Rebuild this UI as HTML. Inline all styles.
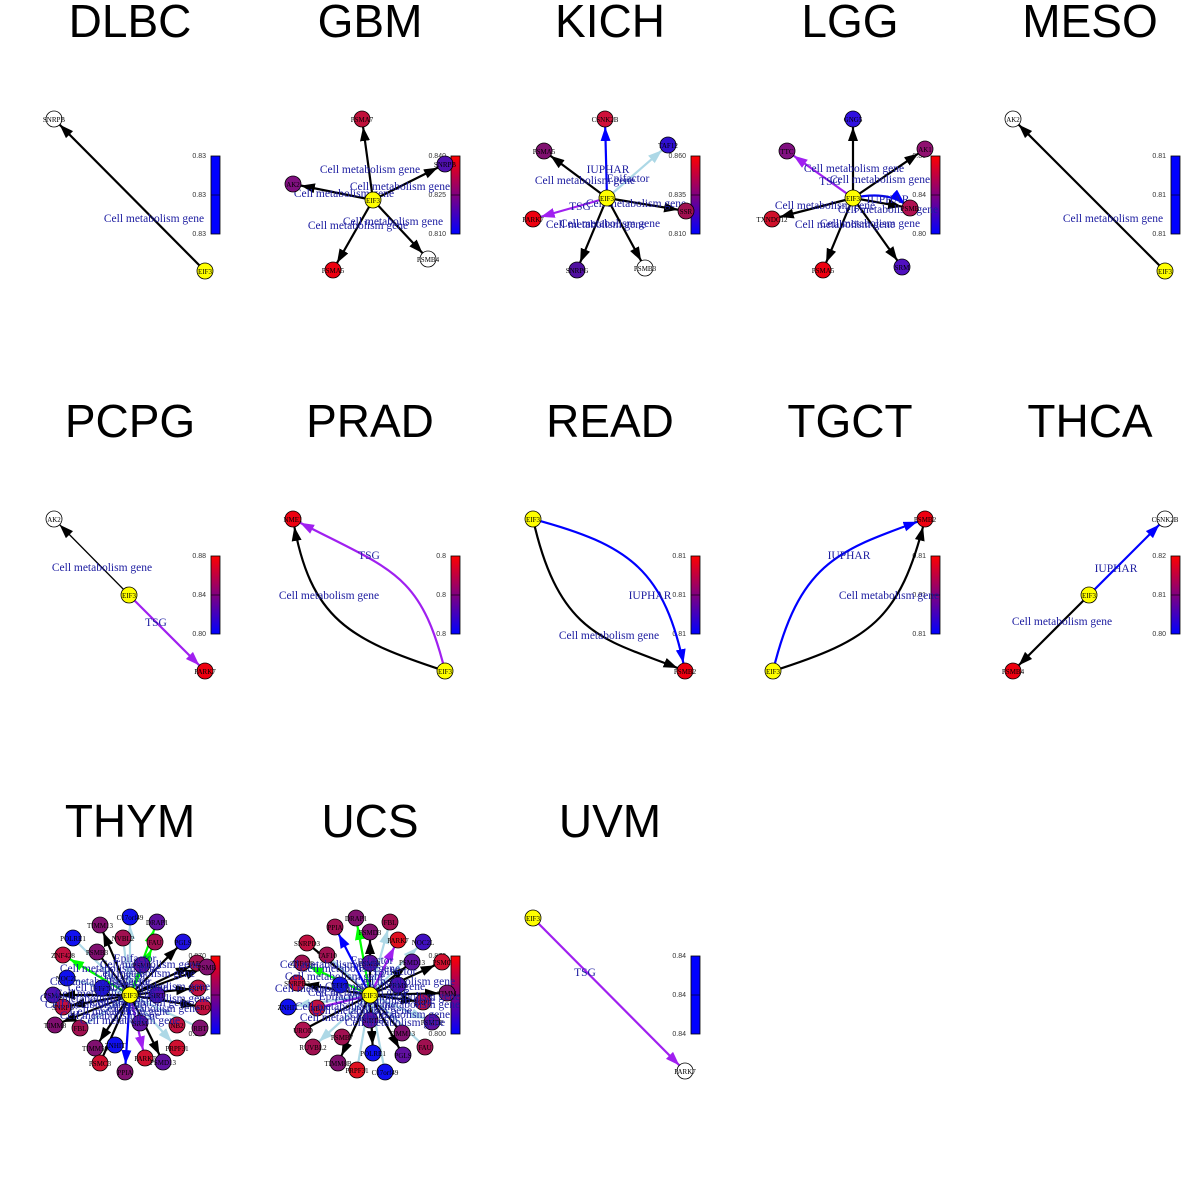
<!DOCTYPE html>
<html><head><meta charset="utf-8"><style>
html,body{margin:0;padding:0;background:#fff}
svg{display:block}
.t{font-family:"Liberation Sans",sans-serif;font-size:46px;text-anchor:middle;fill:#000}
.l{font-family:"Liberation Serif",serif;font-size:11.5px;fill:#1c1ca0;text-anchor:middle}
.n{font-family:"Liberation Serif",serif;font-size:7px;fill:#000;text-anchor:middle}
.k{font-family:"Liberation Sans",sans-serif;font-size:7px;fill:#333;text-anchor:end}
circle{stroke:#000;stroke-width:.8}
.e{fill:none;stroke-width:2.2}
</style></head><body>
<svg width="1200" height="1200" viewBox="0 0 1200 1200" xmlns="http://www.w3.org/2000/svg">
<defs>
<linearGradient id="g" x1="0" y1="0" x2="0" y2="1"><stop offset="0" stop-color="#ff0000"/><stop offset=".5" stop-color="#800080"/><stop offset="1" stop-color="#0000ff"/></linearGradient>
<marker id="mk" markerUnits="userSpaceOnUse" markerWidth="16" markerHeight="12" refX="22" refY="5" orient="auto"><path d="M0,0L14,5L0,10z" fill="#000"/></marker>
<marker id="mb" markerUnits="userSpaceOnUse" markerWidth="16" markerHeight="12" refX="22" refY="5" orient="auto"><path d="M0,0L14,5L0,10z" fill="#0000ff"/></marker>
<marker id="mp" markerUnits="userSpaceOnUse" markerWidth="16" markerHeight="12" refX="22" refY="5" orient="auto"><path d="M0,0L14,5L0,10z" fill="#a020f0"/></marker>
<marker id="ml" markerUnits="userSpaceOnUse" markerWidth="16" markerHeight="12" refX="22" refY="5" orient="auto"><path d="M0,0L14,5L0,10z" fill="#add8e6"/></marker>
<marker id="mg" markerUnits="userSpaceOnUse" markerWidth="16" markerHeight="12" refX="22" refY="5" orient="auto"><path d="M0,0L14,5L0,10z" fill="#00ff00"/></marker>
</defs>

<text class="t" x="130" y="37">DLBC</text><text class="t" x="370" y="37">GBM</text><text class="t" x="610" y="37">KICH</text><text class="t" x="850" y="37">LGG</text><text class="t" x="1090" y="37">MESO</text>
<text class="t" x="130" y="437">PCPG</text><text class="t" x="370" y="437">PRAD</text><text class="t" x="610" y="437">READ</text><text class="t" x="850" y="437">TGCT</text><text class="t" x="1090" y="437">THCA</text>
<text class="t" x="130" y="837">THYM</text><text class="t" x="370" y="837">UCS</text><text class="t" x="610" y="837">UVM</text>

<g>
<rect x="211" y="156" width="9" height="78" fill="#0000ff" stroke="#000" stroke-width=".8"/><line x1="211" y1="195" x2="220" y2="195" stroke="#000" stroke-width=".6"/>
<text class="k" x="206" y="158">0.83</text><text class="k" x="206" y="197">0.83</text><text class="k" x="206" y="236">0.83</text>
<rect x="451" y="156" width="9" height="78" fill="url(#g)" stroke="#000" stroke-width=".8"/><line x1="451" y1="195" x2="460" y2="195" stroke="#000" stroke-width=".6"/>
<text class="k" x="446" y="158">0.840</text><text class="k" x="446" y="197">0.825</text><text class="k" x="446" y="236">0.810</text>
<rect x="691" y="156" width="9" height="78" fill="url(#g)" stroke="#000" stroke-width=".8"/><line x1="691" y1="195" x2="700" y2="195" stroke="#000" stroke-width=".6"/>
<text class="k" x="686" y="158">0.860</text><text class="k" x="686" y="197">0.835</text><text class="k" x="686" y="236">0.810</text>
<rect x="931" y="156" width="9" height="78" fill="url(#g)" stroke="#000" stroke-width=".8"/><line x1="931" y1="195" x2="940" y2="195" stroke="#000" stroke-width=".6"/>
<text class="k" x="926" y="158">0.88</text><text class="k" x="926" y="197">0.84</text><text class="k" x="926" y="236">0.80</text>
<rect x="1171" y="156" width="9" height="78" fill="#0000ff" stroke="#000" stroke-width=".8"/><line x1="1171" y1="195" x2="1180" y2="195" stroke="#000" stroke-width=".6"/>
<text class="k" x="1166" y="158">0.81</text><text class="k" x="1166" y="197">0.81</text><text class="k" x="1166" y="236">0.81</text>

<rect x="211" y="556" width="9" height="78" fill="url(#g)" stroke="#000" stroke-width=".8"/><line x1="211" y1="595" x2="220" y2="595" stroke="#000" stroke-width=".6"/>
<text class="k" x="206" y="558">0.88</text><text class="k" x="206" y="597">0.84</text><text class="k" x="206" y="636">0.80</text>
<rect x="451" y="556" width="9" height="78" fill="url(#g)" stroke="#000" stroke-width=".8"/><line x1="451" y1="595" x2="460" y2="595" stroke="#000" stroke-width=".6"/>
<text class="k" x="446" y="558">0.8</text><text class="k" x="446" y="597">0.8</text><text class="k" x="446" y="636">0.8</text>
<rect x="691" y="556" width="9" height="78" fill="url(#g)" stroke="#000" stroke-width=".8"/><line x1="691" y1="595" x2="700" y2="595" stroke="#000" stroke-width=".6"/>
<text class="k" x="686" y="558">0.81</text><text class="k" x="686" y="597">0.81</text><text class="k" x="686" y="636">0.81</text>
<rect x="931" y="556" width="9" height="78" fill="url(#g)" stroke="#000" stroke-width=".8"/><line x1="931" y1="595" x2="940" y2="595" stroke="#000" stroke-width=".6"/>
<text class="k" x="926" y="558">0.81</text><text class="k" x="926" y="597">0.81</text><text class="k" x="926" y="636">0.81</text>
<rect x="1171" y="556" width="9" height="78" fill="url(#g)" stroke="#000" stroke-width=".8"/><line x1="1171" y1="595" x2="1180" y2="595" stroke="#000" stroke-width=".6"/>
<text class="k" x="1166" y="558">0.82</text><text class="k" x="1166" y="597">0.81</text><text class="k" x="1166" y="636">0.80</text>

<rect x="211" y="956" width="9" height="78" fill="url(#g)" stroke="#000" stroke-width=".8"/><line x1="211" y1="995" x2="220" y2="995" stroke="#000" stroke-width=".6"/>
<text class="k" x="206" y="958">0.870</text><text class="k" x="206" y="1036">0.800</text>
<rect x="451" y="956" width="9" height="78" fill="url(#g)" stroke="#000" stroke-width=".8"/><line x1="451" y1="995" x2="460" y2="995" stroke="#000" stroke-width=".6"/>
<text class="k" x="446" y="958">0.870</text><text class="k" x="446" y="1036">0.800</text>
<rect x="691" y="956" width="9" height="78" fill="#0000ff" stroke="#000" stroke-width=".8"/><line x1="691" y1="995" x2="700" y2="995" stroke="#000" stroke-width=".6"/>
<text class="k" x="686" y="958">0.84</text><text class="k" x="686" y="997">0.84</text><text class="k" x="686" y="1036">0.84</text>
</g>

<!-- DLBC -->
<line class="e" x1="205" y1="271" x2="54" y2="119" stroke="#000" marker-end="url(#mk)"/>
<text class="l" x="154" y="222">Cell metabolism gene</text>
<circle cx="54" cy="119" r="8" fill="#fff"/><text class="n" x="54" y="122">SNRPB</text>
<circle cx="205" cy="271" r="8" fill="#ffff00"/><text class="n" x="205" y="274">EIF3</text>

<!-- GBM -->
<line class="e" stroke="#000" x1="373" y1="200" x2="362" y2="119" marker-end="url(#mk)"/>
<line class="e" stroke="#000" x1="373" y1="200" x2="293" y2="184" marker-end="url(#mk)"/>
<line class="e" stroke="#000" x1="373" y1="200" x2="445" y2="164" marker-end="url(#mk)"/>
<line class="e" stroke="#000" x1="373" y1="200" x2="428" y2="259" marker-end="url(#mk)"/>
<line class="e" stroke="#000" x1="373" y1="200" x2="333" y2="270" marker-end="url(#mk)"/>
<text class="l" x="370" y="173">Cell metabolism gene</text><text class="l" x="400" y="190">Cell metabolism gene</text><text class="l" x="344" y="197">Cell metabolism gene</text><text class="l" x="393" y="225">Cell metabolism gene</text><text class="l" x="358" y="229">Cell metabolism gene</text>
<circle cx="362" cy="119" r="8" fill="#c0103a"/><text class="n" x="362" y="122">PSMA7</text>
<circle cx="293" cy="184" r="8" fill="#801080"/><text class="n" x="293" y="187">AK2</text>
<circle cx="445" cy="164" r="8" fill="#5010b0"/><text class="n" x="445" y="167">SNRPB</text>
<circle cx="428" cy="259" r="8" fill="#fff"/><text class="n" x="428" y="262">PSMB4</text>
<circle cx="333" cy="270" r="8" fill="#ee0010"/><text class="n" x="333" y="273">PSMA5</text>
<circle cx="373" cy="200" r="8" fill="#ffff00"/><text class="n" x="373" y="203">EIF3</text>

<!-- KICH -->
<line class="e" stroke="#0000ff" x1="607" y1="198" x2="605" y2="119" marker-end="url(#mb)"/>
<line class="e" stroke="#000" x1="607" y1="198" x2="544" y2="151" marker-end="url(#mk)"/>
<line class="e" stroke="#add8e6" x1="607" y1="198" x2="668" y2="145" marker-end="url(#ml)"/>
<line class="e" stroke="#a020f0" x1="607" y1="198" x2="533" y2="219" marker-end="url(#mp)"/>
<line class="e" stroke="#000" x1="607" y1="198" x2="686" y2="211" marker-end="url(#mk)"/>
<line class="e" stroke="#000" x1="607" y1="198" x2="577" y2="270" marker-end="url(#mk)"/>
<line class="e" stroke="#000" x1="607" y1="198" x2="645" y2="268" marker-end="url(#mk)"/>
<text class="l" x="608" y="173">IUPHAR</text><text class="l" x="585" y="184">Cell metabolism gene</text><text class="l" x="628" y="182">Epifactor</text><text class="l" x="580" y="210">TSG</text><text class="l" x="636" y="207">Cell metabolism gene</text><text class="l" x="596" y="228">Cell metabolism gene</text><text class="l" x="610" y="227">Cell metabolism gene</text>
<circle cx="605" cy="119" r="8" fill="#d0103a"/><text class="n" x="605" y="122">CSNK2B</text>
<circle cx="544" cy="151" r="8" fill="#801070"/><text class="n" x="544" y="154">PSMA5</text>
<circle cx="668" cy="145" r="8" fill="#3010d0"/><text class="n" x="668" y="148">TAF12</text>
<circle cx="533" cy="219" r="8" fill="#ee0010"/><text class="n" x="533" y="222">PARK7</text>
<circle cx="686" cy="211" r="8" fill="#a01050"/><text class="n" x="686" y="214">SSR</text>
<circle cx="577" cy="270" r="8" fill="#5010a0"/><text class="n" x="577" y="273">SNRPG</text>
<circle cx="645" cy="268" r="8" fill="#fff"/><text class="n" x="645" y="271">PSMB3</text>
<circle cx="607" cy="198" r="8" fill="#ffff00"/><text class="n" x="607" y="201">EIF3</text>

<!-- LGG -->
<line class="e" stroke="#000" x1="853" y1="198" x2="853" y2="119" marker-end="url(#mk)"/>
<line class="e" stroke="#a020f0" x1="853" y1="198" x2="787" y2="151" marker-end="url(#mp)"/>
<line class="e" stroke="#000" x1="853" y1="198" x2="925" y2="149" marker-end="url(#mk)"/>
<line class="e" stroke="#000" x1="853" y1="198" x2="772" y2="219" marker-end="url(#mk)"/>
<path class="e" stroke="#0000ff" d="M853,198 Q890,190 910,208" marker-end="url(#mb)"/>
<line class="e" stroke="#000" x1="853" y1="198" x2="910" y2="208" marker-end="url(#mk)"/>
<line class="e" stroke="#000" x1="853" y1="198" x2="823" y2="270" marker-end="url(#mk)"/>
<line class="e" stroke="#000" x1="853" y1="198" x2="902" y2="267" marker-end="url(#mk)"/>
<text class="l" x="854" y="172">Cell metabolism gene</text><text class="l" x="880" y="183">Cell metabolism gene</text><text class="l" x="830" y="185">TSG</text><text class="l" x="888" y="203">IUPHAR</text><text class="l" x="825" y="209">Cell metabolism gene</text><text class="l" x="888" y="213">Cell metabolism gene</text><text class="l" x="845" y="228">Cell metabolism gene</text><text class="l" x="870" y="227">Cell metabolism gene</text>
<circle cx="853" cy="119" r="8" fill="#3010e0"/><text class="n" x="853" y="122">GNG5</text>
<circle cx="787" cy="151" r="8" fill="#801080"/><text class="n" x="787" y="154">TTC</text>
<circle cx="925" cy="149" r="8" fill="#901070"/><text class="n" x="925" y="152">AK1</text>
<circle cx="772" cy="219" r="8" fill="#d0102a"/><text class="n" x="772" y="222">TXNDC12</text>
<circle cx="910" cy="208" r="8" fill="#b01050"/><text class="n" x="910" y="211">PSMB</text>
<circle cx="823" cy="270" r="8" fill="#ee0010"/><text class="n" x="823" y="273">PSMA5</text>
<circle cx="902" cy="267" r="8" fill="#5010c0"/><text class="n" x="902" y="270">SRM</text>
<circle cx="853" cy="198" r="8" fill="#ffff00"/><text class="n" x="853" y="201">EIF3</text>

<!-- MESO -->
<line class="e" x1="1165" y1="271" x2="1013" y2="119" stroke="#000" marker-end="url(#mk)"/>
<text class="l" x="1113" y="222">Cell metabolism gene</text>
<circle cx="1013" cy="119" r="8" fill="#fff"/><text class="n" x="1013" y="122">AK2</text>
<circle cx="1165" cy="271" r="8" fill="#ffff00"/><text class="n" x="1165" y="274">EIF3</text>

<!-- PCPG -->
<line x1="129" y1="595" x2="54" y2="519" stroke="#000" stroke-width="1.3" marker-end="url(#mk)"/>
<line class="e" stroke="#a020f0" x1="129" y1="595" x2="205" y2="671" marker-end="url(#mp)"/>
<text class="l" x="102" y="571">Cell metabolism gene</text><text class="l" x="156" y="626">TSG</text>
<circle cx="54" cy="519" r="8" fill="#fff"/><text class="n" x="54" y="522">AK2</text>
<circle cx="205" cy="671" r="8" fill="#ee0010"/><text class="n" x="205" y="674">PARK7</text>
<circle cx="129" cy="595" r="8" fill="#ffff00"/><text class="n" x="129" y="598">EIF3</text>

<!-- PRAD -->
<path class="e" stroke="#000" d="M445,671 C350,640 310,620 293,519" marker-end="url(#mk)"/>
<path class="e" stroke="#a020f0" d="M445,671 C420,570 390,570 293,519" marker-end="url(#mp)"/>
<text class="l" x="369" y="559">TSG</text><text class="l" x="329" y="599">Cell metabolism gene</text>
<circle cx="293" cy="519" r="8" fill="#ee0010"/><text class="n" x="293" y="522">NME1</text>
<circle cx="445" cy="671" r="8" fill="#ffff00"/><text class="n" x="445" y="674">EIF3</text>

<!-- READ -->
<path class="e" stroke="#0000ff" d="M533,519 C630,545 665,570 685,671" marker-end="url(#mb)"/>
<path class="e" stroke="#000" d="M533,519 C560,640 610,640 685,671" marker-end="url(#mk)"/>
<text class="l" x="650" y="599">IUPHAR</text><text class="l" x="609" y="639">Cell metabolism gene</text>
<circle cx="533" cy="519" r="8" fill="#ffff00"/><text class="n" x="533" y="522">EIF3</text>
<circle cx="685" cy="671" r="8" fill="#ee0010"/><text class="n" x="685" y="674">PSMB2</text>

<!-- TGCT -->
<path class="e" stroke="#0000ff" d="M773,671 C800,560 840,550 925,519" marker-end="url(#mb)"/>
<path class="e" stroke="#000" d="M773,671 C870,640 900,620 925,519" marker-end="url(#mk)"/>
<text class="l" x="849" y="559">IUPHAR</text><text class="l" x="889" y="599">Cell metabolism gene</text>
<circle cx="925" cy="519" r="8" fill="#ee0010"/><text class="n" x="925" y="522">PSMB2</text>
<circle cx="773" cy="671" r="8" fill="#ffff00"/><text class="n" x="773" y="674">EIF3</text>

<!-- THCA -->
<line class="e" stroke="#0000ff" x1="1089" y1="595" x2="1165" y2="519" marker-end="url(#mb)"/>
<line class="e" stroke="#000" x1="1089" y1="595" x2="1013" y2="671" marker-end="url(#mk)"/>
<text class="l" x="1116" y="572">IUPHAR</text><text class="l" x="1062" y="625">Cell metabolism gene</text>
<circle cx="1165" cy="519" r="8" fill="#fff"/><text class="n" x="1165" y="522">CSNK2B</text>
<circle cx="1013" cy="671" r="8" fill="#ee0010"/><text class="n" x="1013" y="674">PSMB4</text>
<circle cx="1089" cy="595" r="8" fill="#ffff00"/><text class="n" x="1089" y="598">EIF3</text>

<!-- UVM -->
<line class="e" stroke="#a020f0" x1="533" y1="918" x2="685" y2="1071" marker-end="url(#mp)"/>
<text class="l" x="585" y="976">TSG</text>
<circle cx="533" cy="918" r="8" fill="#ffff00"/><text class="n" x="533" y="921">EIF3</text>
<circle cx="685" cy="1071" r="8" fill="#fff"/><text class="n" x="685" y="1074">PARK7</text>

<!-- THYM -->
<g>
<line class="e" stroke="#add8e6" x1="130" y1="995" x2="130" y2="917" marker-end="url(#ml)"/>
<line class="e" stroke="#00ff00" x1="130" y1="995" x2="157" y2="922" marker-end="url(#mg)"/>
<line class="e" stroke="#000" x1="130" y1="995" x2="100" y2="925" marker-end="url(#mk)"/>
<line class="e" stroke="#add8e6" x1="130" y1="995" x2="73" y2="938"/>
<line class="e" stroke="#add8e6" x1="130" y1="995" x2="123" y2="938"/>
<line class="e" stroke="#00ff00" x1="130" y1="995" x2="155" y2="942" marker-end="url(#mg)"/>
<line class="e" stroke="#000" x1="130" y1="995" x2="183" y2="942" marker-end="url(#mk)"/>
<line class="e" stroke="#000" x1="130" y1="995" x2="97" y2="952"/>
<line class="e" stroke="#00ff00" x1="130" y1="995" x2="63" y2="955" marker-end="url(#mg)"/>
<line class="e" stroke="#000" x1="130" y1="995" x2="197" y2="963" marker-end="url(#mk)"/>
<line class="e" stroke="#000" x1="130" y1="995" x2="207" y2="967" marker-end="url(#mk)"/>
<line class="e" stroke="#add8e6" x1="130" y1="995" x2="67" y2="978"/>
<line class="e" stroke="#000" x1="130" y1="995" x2="53" y2="995" marker-end="url(#mk)"/>
<line class="e" stroke="#000" x1="130" y1="995" x2="198" y2="988" marker-end="url(#mk)"/>
<line class="e" stroke="#000" x1="130" y1="995" x2="63" y2="1007" marker-end="url(#mk)"/>
<line class="e" stroke="#000" x1="130" y1="995" x2="203" y2="1007" marker-end="url(#mk)"/>
<line class="e" stroke="#000" x1="130" y1="995" x2="55" y2="1025" marker-end="url(#mk)"/>
<line class="e" stroke="#add8e6" x1="130" y1="995" x2="80" y2="1028"/>
<line class="e" stroke="#add8e6" x1="130" y1="995" x2="200" y2="1028"/>
<line class="e" stroke="#000" x1="130" y1="995" x2="95" y2="1048" marker-end="url(#mk)"/>
<line class="e" stroke="#add8e6" x1="130" y1="995" x2="177" y2="1048" marker-end="url(#ml)"/>
<line class="e" stroke="#a020f0" x1="130" y1="995" x2="145" y2="1058" marker-end="url(#mp)"/>
<line class="e" stroke="#000" x1="130" y1="995" x2="163" y2="1062" marker-end="url(#mk)"/>
<line class="e" stroke="#000" x1="130" y1="995" x2="100" y2="1063"/>
<line class="e" stroke="#0000ff" x1="130" y1="995" x2="125" y2="1072" marker-end="url(#mb)"/>
</g>
<g>
<circle cx="130" cy="917" r="8" fill="#1010f0"/><text class="n" x="130" y="920">C17orf49</text>
<circle cx="157" cy="922" r="8" fill="#6010a0"/><text class="n" x="157" y="925">DRAP1</text>
<circle cx="100" cy="925" r="8" fill="#801070"/><text class="n" x="100" y="928">TIMM13</text>
<circle cx="73" cy="938" r="8" fill="#1010f0"/><text class="n" x="73" y="941">POLRE1</text>
<circle cx="123" cy="938" r="8" fill="#a01050"/><text class="n" x="123" y="941">NVBL2</text>
<circle cx="155" cy="942" r="8" fill="#a01050"/><text class="n" x="155" y="945">FAU</text>
<circle cx="183" cy="942" r="8" fill="#2010e0"/><text class="n" x="183" y="945">PGLS</text>
<circle cx="97" cy="952" r="8" fill="#801070"/><text class="n" x="97" y="955">PSMB3</text>
<circle cx="63" cy="955" r="8" fill="#c01040"/><text class="n" x="63" y="958">ZNF428</text>
<circle cx="197" cy="963" r="8" fill="#a01050"/><text class="n" x="197" y="966">TAF10</text>
<circle cx="207" cy="967" r="8" fill="#801070"/><text class="n" x="207" y="970">PSMB</text>
<circle cx="142" cy="965" r="8" fill="#6010a0"/><text class="n" x="142" y="968">PSMD</text>
<circle cx="67" cy="978" r="8" fill="#1010f0"/><text class="n" x="67" y="981">NOC2L</text>
<circle cx="102" cy="988" r="8" fill="#2010e0"/><text class="n" x="102" y="991">EFPT</text>
<circle cx="198" cy="988" r="8" fill="#c01040"/><text class="n" x="198" y="991">PRPF3</text>
<circle cx="157" cy="995" r="8" fill="#5010b0"/><text class="n" x="157" y="998">SIRT</text>
<circle cx="53" cy="995" r="8" fill="#5010b0"/><text class="n" x="53" y="998">PSMA</text>
<circle cx="63" cy="1007" r="8" fill="#c01040"/><text class="n" x="63" y="1010">SNRPB</text>
<circle cx="203" cy="1007" r="8" fill="#c01040"/><text class="n" x="203" y="1010">SRO</text>
<circle cx="55" cy="1025" r="8" fill="#801070"/><text class="n" x="55" y="1028">TIMM8</text>
<circle cx="80" cy="1028" r="8" fill="#a01050"/><text class="n" x="80" y="1031">FBL</text>
<circle cx="140" cy="1023" r="8" fill="#6010a0"/><text class="n" x="140" y="1026">SRM</text>
<circle cx="177" cy="1025" r="8" fill="#c01040"/><text class="n" x="177" y="1028">NB2</text>
<circle cx="200" cy="1028" r="8" fill="#801070"/><text class="n" x="200" y="1031">RBT</text>
<circle cx="115" cy="1045" r="8" fill="#1010f0"/><text class="n" x="115" y="1048">ZNHIT</text>
<circle cx="95" cy="1048" r="8" fill="#801070"/><text class="n" x="95" y="1051">TIMM50</text>
<circle cx="177" cy="1048" r="8" fill="#d01030"/><text class="n" x="177" y="1051">PRPF31</text>
<circle cx="145" cy="1058" r="8" fill="#d01030"/><text class="n" x="145" y="1061">PARK7</text>
<circle cx="163" cy="1062" r="8" fill="#6010a0"/><text class="n" x="163" y="1065">PSMD13</text>
<circle cx="100" cy="1063" r="8" fill="#d01030"/><text class="n" x="100" y="1066">PSMC3</text>
<circle cx="125" cy="1072" r="8" fill="#801070"/><text class="n" x="125" y="1075">PPIA</text>
</g>
<g>
<text class="l" x="110" y="972">Cell metabolism gene</text><text class="l" x="150" y="968">Cell metabolism gene</text><text class="l" x="125" y="979">Epifactor</text><text class="l" x="100" y="985">Cell metabolism gene</text><text class="l" x="160" y="990">Cell metabolism gene</text><text class="l" x="105" y="997">Cell metabolism gene</text><text class="l" x="160" y="1002">Cell metabolism gene</text><text class="l" x="95" y="1008">Cell metabolism gene</text><text class="l" x="150" y="1012">Cell metabolism gene</text><text class="l" x="110" y="1019">Cell metabolism gene</text><text class="l" x="130" y="1024">Cell metabolism gene</text><text class="l" x="130" y="985">Epifactor</text>
<text class="l" x="135" y="962">Epifactor</text><text class="l" x="118" y="991">Cell metabolism gene</text><text class="l" x="140" y="1006">Cell metabolism gene</text><text class="l" x="120" y="1015">Cell metabolism gene</text><text class="l" x="145" y="977">Cell metabolism gene</text><text class="l" x="90" y="1002">Cell metabolism gene</text>
</g>
<circle cx="130" cy="995" r="8" fill="#ffff00"/><text class="n" x="130" y="998">EIF3</text>

<!-- UCS -->
<g>
<line class="e" stroke="#add8e6" x1="370" y1="995" x2="390" y2="922" marker-end="url(#ml)"/>
<line class="e" stroke="#00ff00" x1="370" y1="995" x2="356" y2="918" marker-end="url(#mg)"/>
<line class="e" stroke="#0000ff" x1="370" y1="995" x2="335" y2="927" marker-end="url(#mb)"/>
<line class="e" stroke="#000" x1="370" y1="995" x2="370" y2="932" marker-end="url(#mk)"/>
<line class="e" stroke="#000" x1="370" y1="995" x2="307" y2="943"/>
<line class="e" stroke="#a020f0" x1="370" y1="995" x2="398" y2="940" marker-end="url(#mp)"/>
<line class="e" stroke="#add8e6" x1="370" y1="995" x2="423" y2="942" marker-end="url(#ml)"/>
<line class="e" stroke="#add8e6" x1="370" y1="995" x2="327" y2="955"/>
<line class="e" stroke="#000" x1="370" y1="995" x2="412" y2="962" marker-end="url(#mk)"/>
<line class="e" stroke="#000" x1="370" y1="995" x2="442" y2="962" marker-end="url(#mk)"/>
<line class="e" stroke="#00ff00" x1="370" y1="995" x2="302" y2="963" marker-end="url(#mg)"/>
<line class="e" stroke="#000" x1="370" y1="995" x2="297" y2="983" marker-end="url(#mk)"/>
<line class="e" stroke="#000" x1="370" y1="995" x2="447" y2="993" marker-end="url(#mk)"/>
<line class="e" stroke="#add8e6" x1="370" y1="995" x2="288" y2="1007" marker-end="url(#ml)"/>
<line class="e" stroke="#a020f0" x1="370" y1="995" x2="317" y2="1008"/>
<line class="e" stroke="#000" x1="370" y1="995" x2="423" y2="1002" marker-end="url(#mk)"/>
<line class="e" stroke="#add8e6" x1="370" y1="995" x2="432" y2="1022" marker-end="url(#ml)"/>
<line class="e" stroke="#000" x1="370" y1="995" x2="303" y2="1030"/>
<line class="e" stroke="#000" x1="370" y1="995" x2="370" y2="1020" />
<line class="e" stroke="#add8e6" x1="370" y1="995" x2="313" y2="1047" marker-end="url(#ml)"/>
<line class="e" stroke="#000" x1="370" y1="995" x2="402" y2="1033" />
<line class="e" stroke="#000" x1="370" y1="995" x2="403" y2="1055" marker-end="url(#mk)"/>
<line class="e" stroke="#000" x1="370" y1="995" x2="338" y2="1063" marker-end="url(#mk)"/>
<line class="e" stroke="#000" x1="370" y1="995" x2="373" y2="1053" marker-end="url(#mk)"/>
<line class="e" stroke="#add8e6" x1="370" y1="995" x2="357" y2="1070"/>
<line class="e" stroke="#add8e6" x1="370" y1="995" x2="385" y2="1072"/>
<line class="e" stroke="#add8e6" x1="370" y1="995" x2="425" y2="1047"/>
</g>
<g>
<circle cx="390" cy="922" r="8" fill="#a01050"/><text class="n" x="390" y="925">FBL</text>
<circle cx="356" cy="918" r="8" fill="#801070"/><text class="n" x="356" y="921">DRAP1</text>
<circle cx="335" cy="927" r="8" fill="#a01050"/><text class="n" x="335" y="930">PPIA</text>
<circle cx="370" cy="932" r="8" fill="#801070"/><text class="n" x="370" y="935">PSMD3</text>
<circle cx="307" cy="943" r="8" fill="#c01040"/><text class="n" x="307" y="946">SNRPD3</text>
<circle cx="398" cy="940" r="8" fill="#e01020"/><text class="n" x="398" y="943">PARK7</text>
<circle cx="423" cy="942" r="8" fill="#4010c0"/><text class="n" x="423" y="945">NOC2L</text>
<circle cx="327" cy="955" r="8" fill="#a01050"/><text class="n" x="327" y="958">TAF10</text>
<circle cx="412" cy="962" r="8" fill="#6010a0"/><text class="n" x="412" y="965">PSMD13</text>
<circle cx="442" cy="962" r="8" fill="#d01030"/><text class="n" x="442" y="965">PSMC</text>
<circle cx="302" cy="963" r="8" fill="#a01050"/><text class="n" x="302" y="966">ZNF428</text>
<circle cx="370" cy="963" r="8" fill="#6010a0"/><text class="n" x="370" y="966">PSMB1</text>
<circle cx="297" cy="983" r="8" fill="#c01040"/><text class="n" x="297" y="986">SNRPB2</text>
<circle cx="340" cy="985" r="8" fill="#1010f0"/><text class="n" x="340" y="988">EFPT</text>
<circle cx="398" cy="985" r="8" fill="#5010b0"/><text class="n" x="398" y="988">PRMS</text>
<circle cx="447" cy="993" r="8" fill="#801070"/><text class="n" x="447" y="996">TIMM</text>
<circle cx="288" cy="1007" r="8" fill="#1010f0"/><text class="n" x="288" y="1010">ZNHIT</text>
<circle cx="317" cy="1008" r="8" fill="#c01040"/><text class="n" x="317" y="1011">NB2</text>
<circle cx="423" cy="1002" r="8" fill="#b01050"/><text class="n" x="423" y="1005">PRPF</text>
<circle cx="432" cy="1022" r="8" fill="#6010a0"/><text class="n" x="432" y="1025">PSMD2</text>
<circle cx="303" cy="1030" r="8" fill="#b01050"/><text class="n" x="303" y="1033">UROD</text>
<circle cx="370" cy="1020" r="8" fill="#6010a0"/><text class="n" x="370" y="1023">SIRT</text>
<circle cx="342" cy="1037" r="8" fill="#a01050"/><text class="n" x="342" y="1040">PSMB7</text>
<circle cx="402" cy="1033" r="8" fill="#801070"/><text class="n" x="402" y="1036">TIMM13</text>
<circle cx="313" cy="1047" r="8" fill="#a01050"/><text class="n" x="313" y="1050">RUVBL2</text>
<circle cx="425" cy="1047" r="8" fill="#a01050"/><text class="n" x="425" y="1050">FAU</text>
<circle cx="403" cy="1055" r="8" fill="#6010a0"/><text class="n" x="403" y="1058">PGLS</text>
<circle cx="338" cy="1063" r="8" fill="#801070"/><text class="n" x="338" y="1066">TIMM8B</text>
<circle cx="373" cy="1053" r="8" fill="#1010f0"/><text class="n" x="373" y="1056">POLRE1</text>
<circle cx="357" cy="1070" r="8" fill="#e01020"/><text class="n" x="357" y="1073">PRPF31</text>
<circle cx="385" cy="1072" r="8" fill="#1010f0"/><text class="n" x="385" y="1075">C17orf49</text>
</g>
<g>
<text class="l" x="350" y="972">Cell metabolism gene</text><text class="l" x="395" y="975">Epifactor</text><text class="l" x="335" y="980">Cell metabolism gene</text><text class="l" x="405" y="985">Cell metabolism gene</text><text class="l" x="325" y="992">Cell metabolism gene</text><text class="l" x="340" y="1000">Epifactor</text><text class="l" x="410" y="1000">Cell metabolism gene</text><text class="l" x="410" y="1008">Cell metabolism gene</text><text class="l" x="345" y="1010">Cell metabolism gene</text><text class="l" x="350" y="1021">Cell metabolism gene</text><text class="l" x="400" y="1018">Cell metabolism gene</text><text class="l" x="375" y="990">Cell metabolism gene</text>
<text class="l" x="372" y="964">Epifactor</text><text class="l" x="358" y="996">Cell metabolism gene</text><text class="l" x="385" y="1004">Cell metabolism gene</text><text class="l" x="362" y="1014">Cell metabolism gene</text><text class="l" x="330" y="968">Cell metabolism gene</text><text class="l" x="395" y="1026">Cell metabolism gene</text>
</g>
<circle cx="370" cy="995" r="8" fill="#ffff00"/><text class="n" x="370" y="998">EIF3</text>
</svg>
</body></html>
